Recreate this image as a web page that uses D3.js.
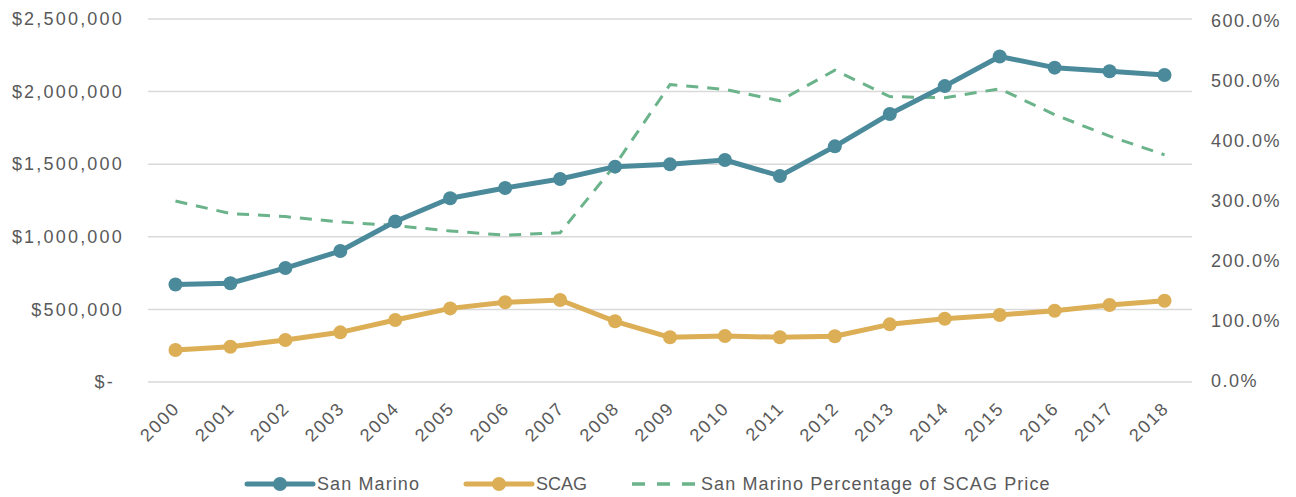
<!DOCTYPE html>
<html>
<head>
<meta charset="utf-8">
<script src="https://cdn.jsdelivr.net/npm/d3@7"></script>
<style>
  body { margin: 0; background: #fff; }
  text { font-family: "Liberation Sans", Arial, sans-serif; fill: #595959; }
</style>
</head>
<body>
<div id="chart"></div>
<script>
const width = 1296, height = 497;

const years = ["2000", "2001", "2002", "2003", "2004", "2005", "2006", "2007", "2008", "2009",
               "2010", "2011", "2012", "2013", "2014", "2015", "2016", "2017", "2018"];
const sanMarino = [672000, 680000, 785000, 902000, 1105000, 1265000, 1336000, 1398000, 1483000, 1499000,
                   1529000, 1419000, 1623000, 1846000, 2038000, 2242000, 2165000, 2140000, 2114000];
const scag = [220000, 243000, 289000, 342000, 427000, 507000, 549000, 565000, 418000, 308000,
              317000, 308000, 315000, 397000, 436000, 461000, 491000, 530000, 560000];
const pctOfScag = [3.00, 2.79, 2.74, 2.65, 2.59, 2.50, 2.43, 2.47, 3.60, 4.94,
                   4.86, 4.67, 5.18, 4.74, 4.72, 4.87, 4.44, 4.08, 3.77];
const leftTicks = [0, 500000, 1000000, 1500000, 2000000, 2500000];
const rightTicks = [0, 1, 2, 3, 4, 5, 6];

const colSM = "#4a8a9b", colSCAG = "#dcae55", colPct = "#6bb38a";

const svg = d3.select("#chart").append("svg")
    .attr("width", width)
    .attr("height", height);

let x = d3.scalePoint()
    .domain(years)
    .range([148, 1192])
    .padding(0.5);

let y = d3.scaleLinear()
    .domain([0, 2500000])
    .range([382, 19]);

let y2 = d3.scaleLinear()
    .domain([0, 6])
    .range([381, 21]);

// gridlines
svg.append("g")
    .selectAll("line")
    .data(leftTicks)
    .join("line")
    .attr("x1", 148)
    .attr("x2", 1192)
    .attr("y1", d => y(d))
    .attr("y2", d => y(d))
    .attr("stroke", "#d9d9d9")
    .attr("stroke-width", 1.5);

// left axis
let fmtMoney = d => d === 0 ? "$-" : "$" + d3.format(",")(d);
let leftAxis = svg.append("g")
    .attr("transform", "translate(124,0)")
    .call(d3.axisLeft(y).tickValues(leftTicks).tickFormat(fmtMoney).tickSize(0).tickPadding(0));
leftAxis.select(".domain").remove();
leftAxis.selectAll("text")
    .style("font-size", "18px")
    .style("letter-spacing", "2.2px")
    .style("font-family", null)
    .attr("x", d => d === 0 ? -9 : 0);

// right axis
let rightAxis = svg.append("g")
    .attr("transform", "translate(1211,0)")
    .call(d3.axisRight(y2).tickValues(rightTicks).tickFormat(d3.format(".1%")).tickSize(0).tickPadding(0));
rightAxis.select(".domain").remove();
rightAxis.selectAll("text")
    .style("font-size", "18px")
    .style("letter-spacing", "1.5px")
    .style("font-family", null);

// x labels
svg.append("g")
    .selectAll("text")
    .data(years)
    .join("text")
    .attr("transform", d => `translate(${x(d) + 1}, 405)rotate(-45)`)
    .attr("text-anchor", "end")
    .attr("dy", "0.35em")
    .style("font-size", "18px")
    .style("letter-spacing", "1.8px")
    .text(d => d);

// percentage dashed line
svg.append("path")
    .datum(pctOfScag)
    .attr("fill", "none")
    .attr("stroke", colPct)
    .attr("stroke-width", 3)
    .attr("stroke-dasharray", "12,9")
    .attr("d", d3.line()
        .x((d, i) => x(years[i]))
        .y(d => y2(d)));

function drawSeries(values, color) {
    svg.append("path")
        .datum(values)
        .attr("fill", "none")
        .attr("stroke", color)
        .attr("stroke-width", 5)
        .attr("stroke-linejoin", "round")
        .attr("d", d3.line()
            .x((d, i) => x(years[i]))
            .y(d => y(d)));
    svg.append("g")
        .selectAll("circle")
        .data(values)
        .join("circle")
        .attr("cx", (d, i) => x(years[i]))
        .attr("cy", d => y(d))
        .attr("r", 7)
        .attr("fill", color);
}
drawSeries(scag, colSCAG);
drawSeries(sanMarino, colSM);

// legend
const legendItems = [
    { name: "San Marino", color: colSM, x: 247, marker: true },
    { name: "SCAG", color: colSCAG, x: 466, marker: true },
    { name: "San Marino Percentage of SCAG Price", color: colPct, x: 632, marker: false }
];
let legend = svg.append("g");
legendItems.forEach(function(item) {
    let g = legend.append("g").attr("transform", `translate(${item.x}, 484)`);
    g.append("line")
        .attr("x1", 0)
        .attr("x2", item.marker ? 66 : 63)
        .attr("stroke", item.color)
        .attr("stroke-width", item.marker ? 5 : 3.5)
        .attr("stroke-linecap", item.marker ? "round" : "butt")
        .attr("stroke-dasharray", item.marker ? null : "13,12");
    if (item.marker) {
        g.append("circle").attr("cx", 33).attr("r", 7).attr("fill", item.color);
    }
    g.append("text")
        .attr("x", item.marker ? 70 : 69)
        .attr("dy", "0.35em")
        .style("font-size", "18px")
        .style("letter-spacing", item.name === "SCAG" ? "0px" : "1.1px")
        .text(item.name);
});
</script>
</body>
</html>
